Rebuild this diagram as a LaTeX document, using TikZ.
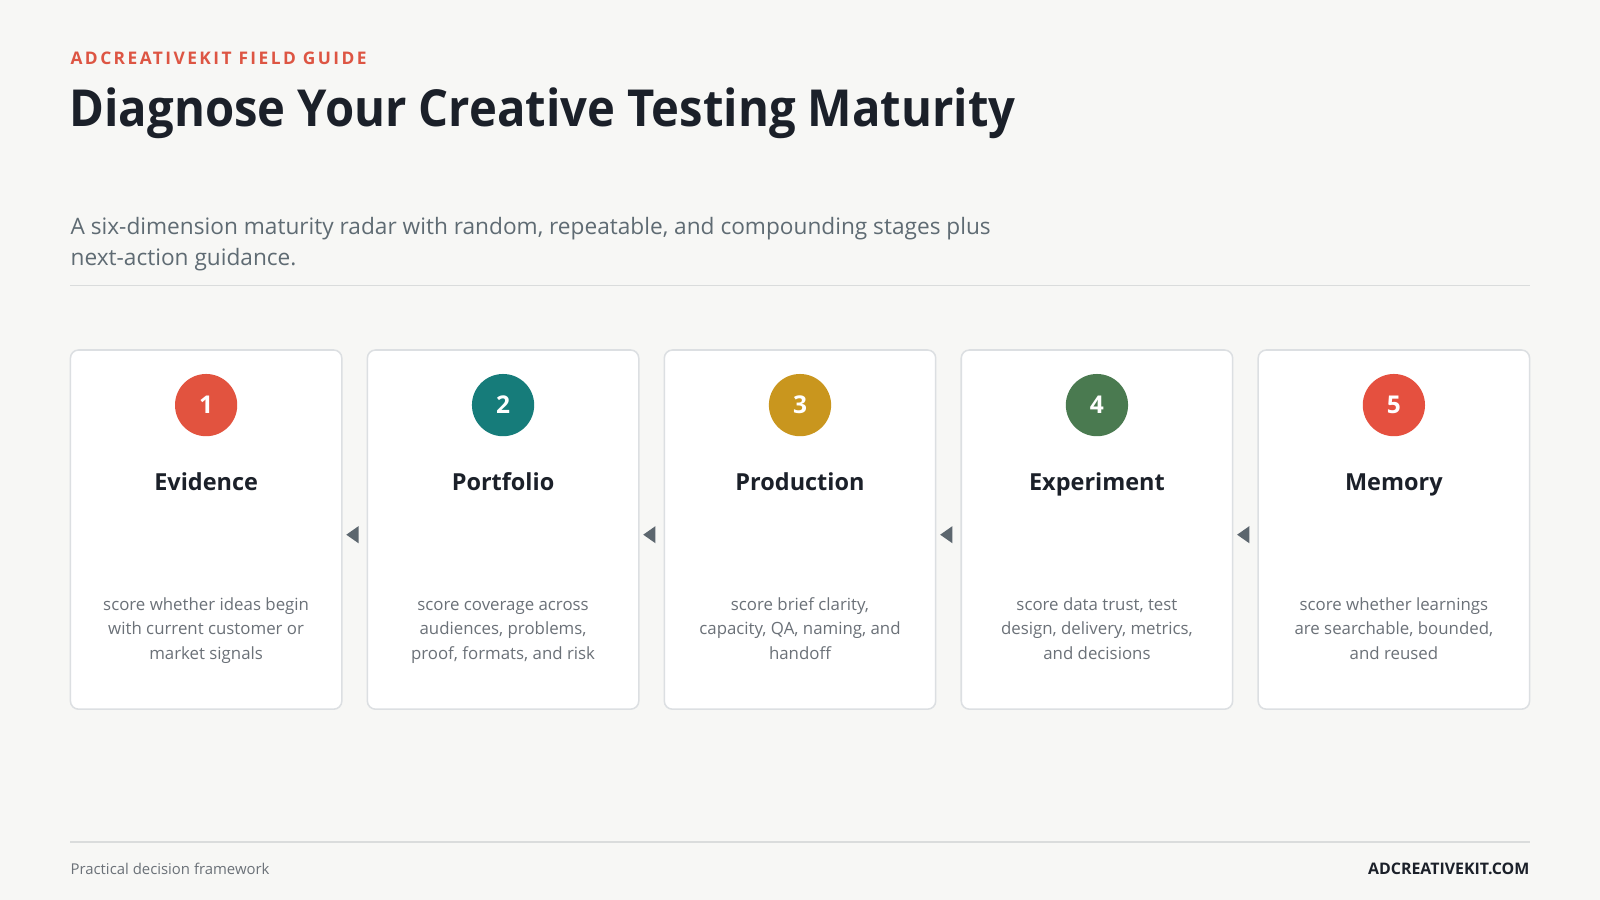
\documentclass[tikz,border=0pt]{standalone}
\usepackage{fontspec}
\setmainfont{Open Sans}
\usetikzlibrary{shapes.geometric}
\definecolor{bg}{HTML}{F7F7F5}
\definecolor{kicker}{HTML}{DD5543}
\definecolor{ink}{HTML}{1B2029}
\definecolor{sub}{HTML}{5F6B73}
\definecolor{rule}{HTML}{DADCDC}
\definecolor{cardline}{HTML}{DCDFE2}
\definecolor{desc}{HTML}{6B7178}
\definecolor{arr}{HTML}{5C666E}
\definecolor{cA}{HTML}{E2533F}
\definecolor{cB}{HTML}{167C7A}
\definecolor{cC}{HTML}{C9961E}
\definecolor{cD}{HTML}{4A7A50}
\definecolor{cE}{HTML}{E5503F}
\tikzset{
  card/.style={draw=cardline, line width=1.5pt, fill=white, rounded corners=8pt, minimum width=266pt, minimum height=352pt, inner sep=0pt},
  badge/.style={circle, minimum size=61pt, inner sep=0pt, text=white, font=\fontsize{24}{28}\selectfont\bfseries},
  cardtitle/.style={anchor=base, text=ink, font=\fontsize{23}{28}\selectfont\bfseries},
  cardtext/.style={anchor=base, text=desc, align=center, font=\fontsize{16.5}{24}\selectfont},
  flowtip/.style={isosceles triangle, shape border rotate=180, fill=arr, minimum height=12pt, minimum width=16pt, isosceles triangle apex angle=70, inner sep=0pt},
}
\begin{document}
\begin{tikzpicture}[x=1pt,y=-1pt]
\fill[bg] (0,0) rectangle (1568,882);
\useasboundingbox (0,0) rectangle (1568,882);

\node[anchor=base west, inner sep=0pt, text=kicker, font=\fontsize{17}{20}\selectfont\bfseries\addfontfeature{LetterSpace=14}] (kick) at (69,63) {ADCREATIVEKIT FIELD GUIDE};
\node[anchor=base west, inner sep=0pt, text=ink, font=\fontsize{50}{60}\selectfont\bfseries] (title) at (68,124) {\scalebox{0.925}[1]{Diagnose Your Creative Testing Maturity}};
\node[anchor=base west, inner sep=0pt, text=sub, font=\fontsize{22.2}{30}\selectfont] (subt) at (69,230) {A six-dimension maturity radar with random, repeatable, and compounding stages plus};
\node[anchor=base west, inner sep=0pt, text=sub, font=\fontsize{22.2}{30}\selectfont] (subt2) at (69,260) {next-action guidance.};
\coordinate (r1a) at (69,280); \coordinate (r1b) at (1499,280);
\draw[rule, line width=1.5pt] (r1a) -- (r1b);

\foreach \i/\x/\col/\num/\ttl/\txt in {
 1/202/cA/1/Evidence/{score whether ideas begin\\with current customer or\\market signals},
 2/493/cB/2/Portfolio/{score coverage across\\audiences, problems,\\proof, formats, and risk},
 3/784/cC/3/Production/{score brief clarity,\\capacity, QA, naming, and\\handoff},
 4/1075/cD/4/Experiment/{score data trust, test\\design, delivery, metrics,\\and decisions},
 5/1366/cE/5/Memory/{score whether learnings\\are searchable, bounded,\\and reused}}{
  \node[card] (card\i) at (\x,519) {};
  \node[badge, fill=\col] (badge\i) at (\x,397) {\num};
  \node[cardtitle] (ttl\i) at (\x,481) {\ttl};
  \node[cardtext] (txt\i) at (\x,646) {\txt};
}
\foreach \a/\b in {1/2,2/3,3/4,4/5}{
  \path (card\a.east) -- (card\b.west) node[flowtip, pos=0.5, xshift=-0.5pt, yshift=-5pt] (tip\a) {};
}

\coordinate (r2a) at (69,825); \coordinate (r2b) at (1499,825);
\draw[rule, line width=1.5pt] (r2a) -- (r2b);
\node[anchor=base west, inner sep=0pt, text=desc, font=\fontsize{14.6}{18}\selectfont] (foot1) at (69,857) {Practical decision framework};
\node[anchor=base east, inner sep=0pt, text=ink, font=\fontsize{15.6}{18}\selectfont\bfseries] (foot2) at (1499,857) {ADCREATIVEKIT.COM};
\end{tikzpicture}
\end{document}
